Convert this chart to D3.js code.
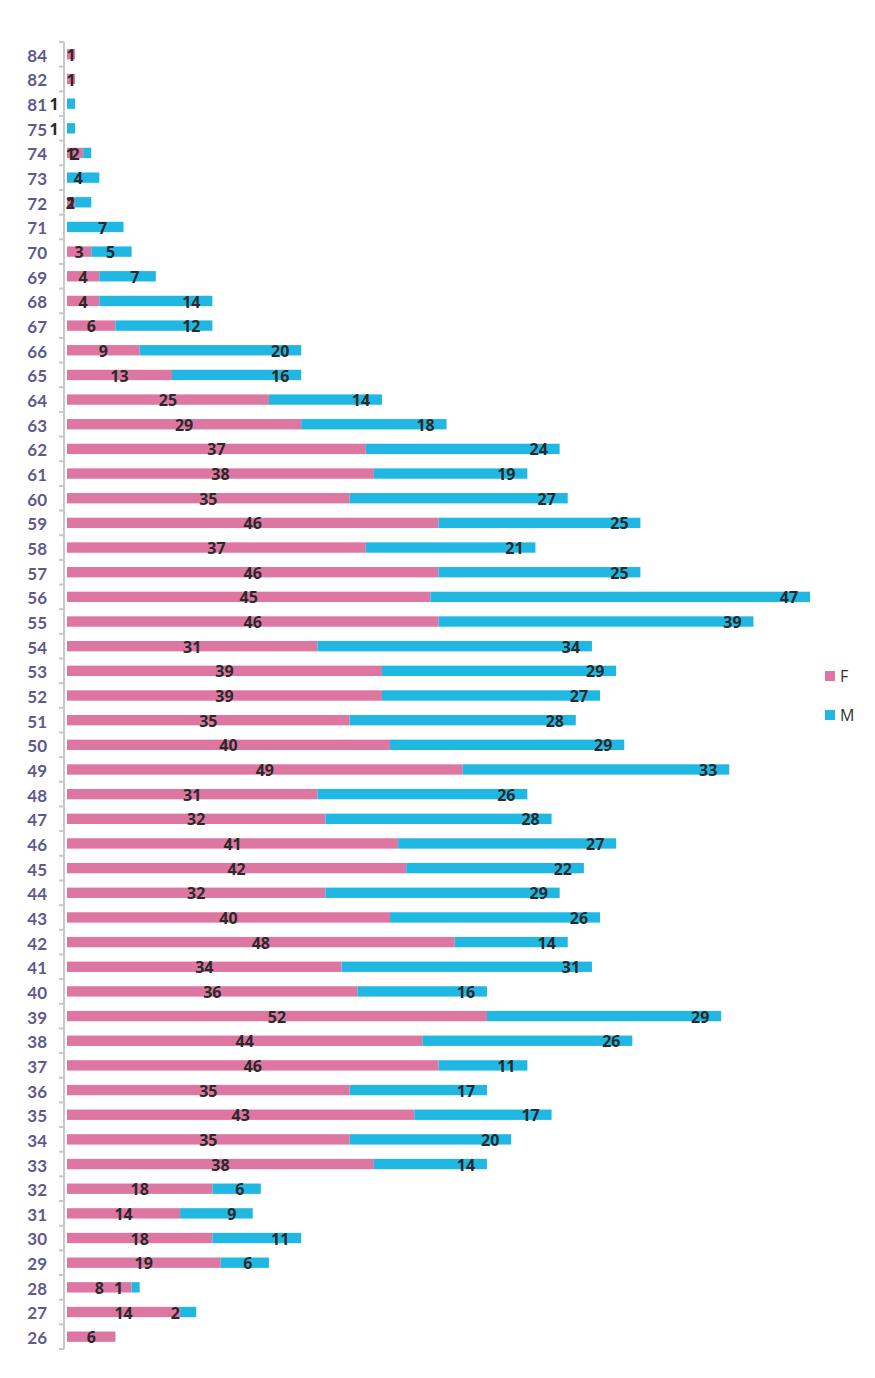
<!DOCTYPE html>
<html>
<head>
<meta charset="utf-8">
<script src="https://cdn.jsdelivr.net/npm/d3@7"></script>
<style>
  body { margin: 0; background: #fff; }
</style>
</head>
<body>
<div id="chart"></div>
<script>
// chart size
const width = 875;
const height = 1378;
const margin = {left: 67, right: 65, top: 42, bottom: 29};

// ages, top to bottom
const ages = ["84","82","81","75","74","73","72","71","70","69","68","67","66","65","64","63","62","61","60","59",
  "58","57","56","55","54","53","52","51","50","49","48","47","46","45","44","43","42","41","40","39",
  "38","37","36","35","34","33","32","31","30","29","28","27","26"];

const femmes = [1,1,0,0,2,0,1,0,3,4,4,6,9,13,25,29,37,38,35,46,
  37,46,45,46,31,39,39,35,40,49,31,32,41,42,32,40,48,34,36,52,
  44,46,35,43,35,38,18,14,18,19,8,14,6];

const hommes = [0,0,1,1,1,4,2,7,5,7,14,12,20,16,14,18,24,19,27,25,
  21,25,47,39,34,29,27,28,29,33,26,28,27,22,29,26,14,31,16,29,
  26,11,17,17,20,14,6,9,11,6,1,2,0];

const seriesNames = ["F", "M"];
const colors = ["#dd77a1", "#20b8e3"];

const data = ages.map((a, i) => ({age: a, F: femmes[i], M: hommes[i]}));

const svg = d3.select("#chart")
  .append("svg")
  .attr("width", width)
  .attr("height", height);

// scales
const xScale = d3.scaleLinear()
  .domain([0, 92])
  .range([margin.left, 810]);

const yScale = d3.scaleBand()
  .domain(ages)
  .range([margin.top, height - margin.bottom])
  .paddingInner(0.58)
  .paddingOuter(0.29);

const stack = d3.stack().keys(seriesNames);
const stacked = stack(data);

// bars
svg.selectAll(".serie")
  .data(stacked)
  .enter()
  .append("g")
    .attr("fill", (d, i) => colors[i])
  .selectAll("rect")
  .data(d => d)
  .enter()
  .append("rect")
    .attr("x", d => xScale(d[0]))
    .attr("y", d => yScale(d.data.age))
    .attr("height", yScale.bandwidth())
    .attr("width", d => xScale(d[1]) - xScale(d[0]));

// axis line + ticks between the categories
const axisX = 64;
const step = yScale.step();
const y0 = margin.top;
const nb = ages.length;
svg.append("line")
  .attr("x1", axisX).attr("x2", axisX)
  .attr("y1", y0).attr("y2", y0 + step * nb)
  .attr("stroke", "#c8c8c8")
  .attr("stroke-width", 2);
svg.selectAll(".tickmark")
  .data(d3.range(nb + 1))
  .enter()
  .append("line")
    .attr("x1", axisX - 5).attr("x2", axisX)
    .attr("y1", i => y0 + i * step)
    .attr("y2", i => y0 + i * step)
    .attr("stroke", "#c8c8c8")
    .attr("stroke-width", 2);

// age labels
svg.append("g")
  .attr("transform", `translate(${axisX}, 2)`)
  .call(d3.axisLeft(yScale).tickSize(0).tickPadding(17))
  .call(g => g.select(".domain").remove())
  .selectAll("text")
    .attr("font-family", "Lato, sans-serif")
    .attr("font-weight", "bold")
    .attr("font-size", "17px")
    .attr("fill", "#5e5a91");

// value labels (F centred, M near end of bar)
const labelY = d => yScale(d.age) + yScale.bandwidth() / 2 + 1;
const labelStyle = sel => sel
  .attr("font-family", "'Open Sans', sans-serif")
  .attr("font-weight", "bold")
  .attr("font-size", "16px")
  .attr("fill", "#2a2a2a")
  .attr("text-anchor", "middle")
  .attr("dy", "0.35em");

svg.selectAll(".labF")
  .data(data.filter(d => d.F > 0))
  .enter()
  .append("text")
    .attr("x", d => xScale(d.F / 2))
    .attr("y", labelY)
    .text(d => d.F)
    .call(labelStyle);

svg.selectAll(".labM")
  .data(data.filter(d => d.M > 0))
  .enter()
  .append("text")
    .attr("x", d => xScale(d.F + d.M) - 21)
    .attr("y", labelY)
    .text(d => d.M)
    .call(labelStyle);

// legend
const legend = svg.selectAll(".legend")
  .data(seriesNames)
  .enter()
  .append("g")
    .attr("transform", (d, i) => `translate(825, ${671 + i * 39})`);
legend.append("rect")
  .attr("width", 10).attr("height", 10)
  .attr("fill", (d, i) => colors[i]);
legend.append("text")
  .attr("x", 15).attr("y", 5)
  .attr("dy", "0.35em")
  .attr("font-family", "'Open Sans', sans-serif")
  .attr("font-size", "16px")
  .attr("fill", "#333")
  .text(d => d);
</script>
</body>
</html>
